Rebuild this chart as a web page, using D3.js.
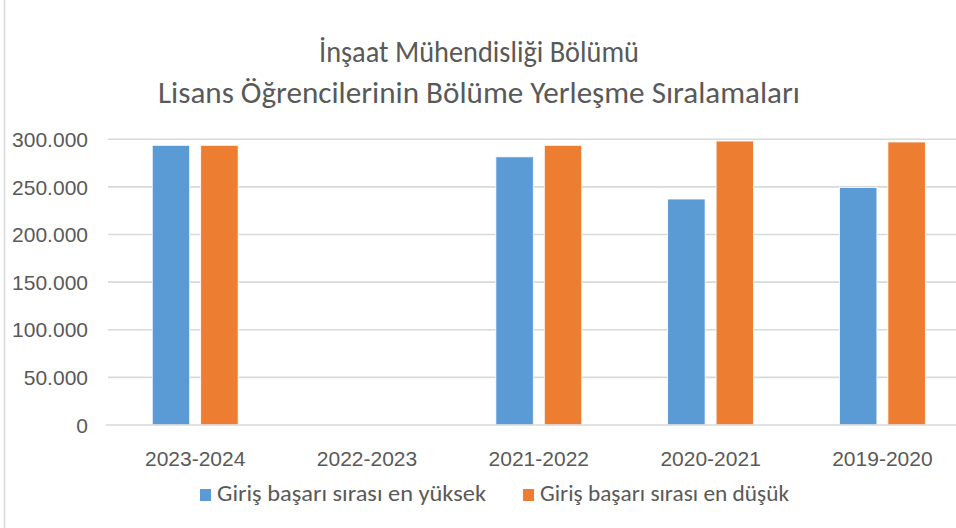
<!DOCTYPE html>
<html><head><meta charset="utf-8">
<script src="https://cdn.jsdelivr.net/npm/d3@7"></script>
<style>
html,body{margin:0;padding:0;background:#fff;}
svg{display:block;font-family:Carlito,"Liberation Sans Narrow","Open Sans",sans-serif;}
</style></head>
<body>
<svg id="chart" width="956" height="528"></svg>
<script>
const categories = ["2023-2024","2022-2023","2021-2022","2020-2021","2019-2020"];
const seriesNames = ["Giriş başarı sırası en yüksek","Giriş başarı sırası en düşük"];
const highest = [293700, null, 281600, 237300, 249400];
const lowest  = [293700, null, 293700, 298200, 297200];
const yTicks = [0,50000,100000,150000,200000,250000,300000];
const titleLines = ["İnşaat Mühendisliği Bölümü","Lisans Öğrencilerinin Bölüme Yerleşme Sıralamaları"];
const colors = ["#5B9BD5","#ED7D31"];

const svg = d3.select("#chart");
const textColor = "#595959";
const locale = d3.formatLocale({decimal:",",thousands:".",grouping:[3],currency:["","₺"]});
const fmt = locale.format(",.0f");

// chart border (left edge visible)
svg.append("line").attr("x1",4.5).attr("x2",4.5).attr("y1",0).attr("y2",528)
  .attr("stroke","#d9d9d9").attr("stroke-width",1.5);

const y = d3.scaleLinear().domain([0,300000]).range([425,139.3]);
const x0 = d3.scaleBand().domain(categories).range([109.3,968.3]).paddingInner(0.5).paddingOuter(0.25);
const x1 = d3.scaleBand().domain(seriesNames).range([0,x0.bandwidth()]).paddingInner(0.227);

// gridlines
svg.append("g").selectAll("line").data(yTicks.filter(d=>d>0)).join("line")
  .attr("x1",108).attr("x2",956).attr("y1",d=>y(d)).attr("y2",d=>y(d))
  .attr("stroke","#d9d9d9").attr("stroke-width",1.6);

// y axis labels
const yAxis = d3.axisLeft(y).tickValues(yTicks).tickFormat(d=>fmt(d)).tickSize(0).tickPadding(0);
const gy = svg.append("g").attr("transform","translate(88,0)").call(yAxis);
gy.select(".domain").remove();
gy.selectAll("text").attr("fill",textColor).attr("font-size",21).attr("font-family",null).attr("dy","0.34em");

// bars
const data = categories.map((c,i)=>({cat:c, vals:[highest[i], lowest[i]]}));
const groups = svg.append("g").selectAll("g").data(data).join("g")
  .attr("transform",d=>`translate(${x0(d.cat)},0)`);
groups.selectAll("rect").data(d=>d.vals.map((v,j)=>({v,j})).filter(e=>e.v!=null)).join("rect")
  .attr("x",e=>x1(seriesNames[e.j])).attr("width",x1.bandwidth())
  .attr("y",e=>y(e.v)).attr("height",e=>y(0)-y(e.v))
  .attr("fill",e=>colors[e.j]).attr("stroke","#fff").attr("stroke-width",0.8);

// x axis
const xAxis = d3.axisBottom(x0).tickSize(0).tickPadding(0);
const gx = svg.append("g").attr("transform","translate(0,425)").call(xAxis);
gx.select(".domain").remove();
svg.append("line").attr("x1",106).attr("x2",956).attr("y1",y(0)).attr("y2",y(0))
  .attr("stroke","#d9d9d9").attr("stroke-width",1.6);
gx.selectAll("text").attr("fill",textColor).attr("font-size",21).attr("font-family",null).attr("dy",null).attr("y",41);

// title
const titleWidths = [320, 642];
svg.append("g").selectAll("text").data(titleLines).join("text")
  .attr("x",479).attr("y",(d,i)=>i===0?62:103)
  .attr("text-anchor","middle").attr("fill",textColor).attr("font-size",31)
  .attr("textLength",(d,i)=>titleWidths[i]).attr("lengthAdjust","spacingAndGlyphs")
  .text(d=>d);

// legend
const legendX = [200,523];
const legendW = [269,249];
const leg = svg.append("g").selectAll("g").data(seriesNames).join("g")
  .attr("transform",(d,i)=>`translate(${legendX[i]},489)`);
leg.append("rect").attr("width",11).attr("height",12).attr("fill",(d,i)=>colors[i]);
leg.append("text").attr("x",17).attr("y",12).attr("fill",textColor).attr("font-size",22)
  .attr("textLength",(d,i)=>legendW[i]).attr("lengthAdjust","spacingAndGlyphs").text(d=>d);
</script>
</body></html>
